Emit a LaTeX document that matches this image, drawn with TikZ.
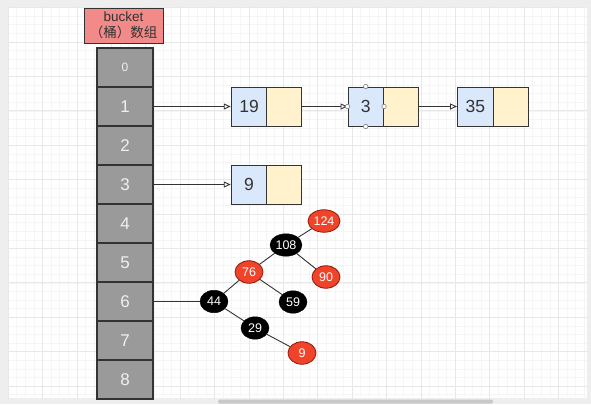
\documentclass[tikz,border=0pt]{standalone}
\usepackage{fontspec}
\setmainfont{Liberation Sans}
\newfontfamily\cjk{Noto Sans CJK SC}
\usetikzlibrary{shapes.geometric,arrows.meta}

\definecolor{canvasgrey}{RGB}{238,238,238}
\definecolor{gridminor}{RGB}{245,245,245}
\definecolor{gridmajor}{RGB}{232,232,232}
\definecolor{thumbgrey}{RGB}{200,200,200}
\definecolor{headfill}{RGB}{241,138,136}
\definecolor{cellfill}{RGB}{154,154,154}
\definecolor{keyfill}{RGB}{218,232,252}
\definecolor{nextfill}{RGB}{255,242,204}
\definecolor{rbred}{RGB}{240,68,42}
\definecolor{rbredline}{RGB}{150,20,10}
\definecolor{edgegrey}{RGB}{51,51,51}

\tikzset{
  headbox/.style={draw=edgegrey, line width=0.9pt, fill=headfill, minimum width=79pt, minimum height=35pt,
    inner sep=0pt, align=center, font=\fontsize{13.5}{16.5}\selectfont, text=edgegrey},
  cell/.style={draw=edgegrey, line width=1.1pt, fill=cellfill, minimum width=56pt, minimum height=39pt,
    inner sep=0pt, text=white!94!black, font=\fontsize{17}{17}\selectfont},
  keybox/.style={draw=edgegrey, line width=1pt, fill=keyfill, minimum width=35.5pt, minimum height=39pt,
    inner sep=0pt, text=edgegrey, font=\fontsize{17.5}{17.5}\selectfont},
  nextbox/.style={draw=edgegrey, line width=1pt, fill=nextfill, minimum width=35pt, minimum height=39pt, inner sep=0pt},
  rbnode/.style={ellipse, inner sep=0pt, minimum width=28pt, minimum height=22.5pt, text=white,
    font=\fontsize{12.5}{12.5}\selectfont},
  wide/.style={minimum width=32pt},
  rednode/.style={rbnode, fill=rbred, draw=rbredline, line width=0.8pt},
  blacknode/.style={rbnode, fill=black, draw=black},
  link/.style={draw=edgegrey, line width=0.9pt, -{Triangle[open, length=7pt, width=6pt]}},
  treeedge/.style={draw=edgegrey, line width=0.9pt},
  handle/.style={circle, draw=gray, fill=white, line width=0.6pt, minimum size=4.5pt, inner sep=0pt},
}

\begin{document}
\begin{tikzpicture}[x=1pt, y=-1pt]
  \useasboundingbox (0,0) rectangle (591,404);

  % editor frame and canvas
  \fill[canvasgrey] (0,0) rectangle (591,404);
  \fill[white] (8,7) rectangle (587,398);
  \begin{scope}
    \clip (8,7) rectangle (587,398);
    \foreach \k in {-4,...,63} {
      \pgfmathsetmacro{\gx}{42.5+8.6*\k}
      \pgfmathsetmacro{\gy}{42+8.6*\k}
      \draw[gridminor, line width=0.6pt] (\gx,0) -- (\gx,404);
      \draw[gridminor, line width=0.6pt] (0,\gy) -- (591,\gy);
    }
    \foreach \k in {-1,...,16} {
      \pgfmathsetmacro{\gx}{42.5+34.4*\k}
      \pgfmathsetmacro{\gy}{42+34.4*\k}
      \draw[gridmajor, line width=0.7pt] (\gx,0) -- (\gx,404);
      \draw[gridmajor, line width=0.7pt] (0,\gy) -- (591,\gy);
    }
  \end{scope}
  \fill[thumbgrey, rounded corners=1.5pt] (218,399.5) rectangle (493,403.5);

  % bucket array
  \node[headbox] (head) at (123.5,25.5) {bucket\\{\cjk（桶）数组}};
  \node[cell, font=\fontsize{12}{12}\selectfont] (c0) at (125,67.5) {0};
  \foreach \i in {1,...,8} {
    \node[cell] (c\i) at (125,67.5+39*\i) {\i};
  }

  % linked list in bucket 1
  \node[keybox]  (k19) at (249,106.5) {19};
  \node[nextbox] (n19) at (284.25,106.5) {};
  \node[keybox]  (k3)  at (365.75,106.5) {3};
  \node[nextbox] (n3)  at (401,106.5) {};
  \node[keybox]  (k35) at (475.25,106.5) {35};
  \node[nextbox] (n35) at (510.5,106.5) {};

  % linked list in bucket 3
  \node[keybox]  (k9) at (249,184.5) {9};
  \node[nextbox] (n9) at (284.25,184.5) {};

  \draw[link] (c1.east) -- (k19.west);
  \draw[link] (n19.east) -- (k3.west);
  \draw[link] (n3.east) -- (k35.west);
  \draw[link] (c3.east) -- (k9.west);

  % selection handles on the key box of node 3
  \foreach \a in {north,south,west,east} {
    \node[handle] (h\a) at (k3.\a) {};
  }

  % red-black tree in bucket 6
  \node[rednode, wide]   (t124) at (324,221) {124};
  \node[blacknode, wide] (t108) at (286,245) {108};
  \node[rednode]   (t76)  at (249,272) {76};
  \node[rednode]   (t90)  at (326,277) {90};
  \node[blacknode] (t44)  at (214,301.5) {44};
  \node[blacknode] (t59)  at (293,302) {59};
  \node[blacknode] (t29)  at (255,328) {29};
  \node[rednode]   (t9)   at (302,353) {9};

  \draw[treeedge] (c6.east) -- (t44.west);
  \draw[treeedge] (t108) -- (t124);
  \draw[treeedge] (t108) -- (t76);
  \draw[treeedge] (t108) -- (t90);
  \draw[treeedge] (t76) -- (t44);
  \draw[treeedge] (t76) -- (t59);
  \draw[treeedge] (t44) -- (t29);
  \draw[treeedge] (t29) -- (t9);
\end{tikzpicture}
\end{document}
